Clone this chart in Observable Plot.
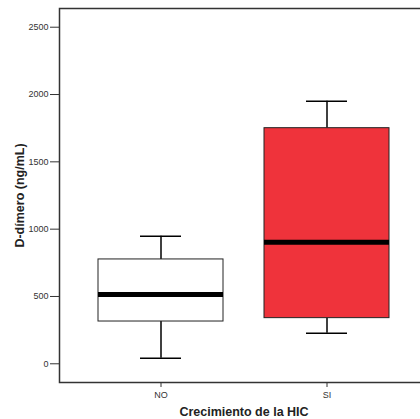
<!DOCTYPE html>
<html>
<head>
<meta charset="utf-8">
<script src="https://cdn.jsdelivr.net/npm/d3@7"></script>
<script src="https://cdn.jsdelivr.net/npm/@observablehq/plot@0.6"></script>
<style>
  html, body { margin: 0; padding: 0; background: white; overflow: hidden; width: 420px; height: 419px; }
  svg { max-width: none !important; font-family: "Liberation Sans", Arial, sans-serif !important; }
  svg g[aria-label="y-axis tick label"], svg g[aria-label="x-axis tick label"] { font-size: 9px !important; fill: #333; }
  svg g[aria-label="y-axis label"], svg g[aria-label="x-axis label"] { font-size: 12.5px !important; font-weight: bold; fill: #222; }
</style>
</head>
<body>
<div id="chart"></div>
<script>
const groups = ["NO", "SI"];
const mins = [42, 227];
const q1s = [314, 339];
const medians = [515, 903];
const q3s = [775, 1750];
const maxs = [948, 1950];
const fills = ["white", "#ef333b"];
const yTicks = [0, 500, 1000, 1500, 2000, 2500];

const data = groups.map((g, i) => ({
  group: g, min: mins[i], q1: q1s[i], median: medians[i], q3: q3s[i], max: maxs[i], fill: fills[i]
}));

const chart = Plot.plot({
  width: 428,
  height: 419,
  marginLeft: 59,
  marginRight: 0,
  marginTop: 8,
  marginBottom: 37,
  style: { fontFamily: "'Liberation Sans', Arial, sans-serif", maxWidth: "none" },
  x: { domain: groups, paddingInner: 0.25, paddingOuter: 0.23, label: "Crecimiento de la HIC" },
  y: { domain: [-139, 2639], label: "D-dímero (ng/mL)" },
  color: { type: "identity" },
  marks: [
    Plot.axisY({ ticks: yTicks, tickFormat: d => String(d), tickSize: 9, tickPadding: 2, stroke: "#333", labelAnchor: "center", labelArrow: "none", labelOffset: 44 }),
    Plot.axisX({ tickSize: 5, tickPadding: 4, stroke: "#333", labelAnchor: "center", labelArrow: "none", labelOffset: 33 }),
    Plot.ruleX(data, { x: "group", y1: "min", y2: "q1", stroke: "black", strokeWidth: 1.5 }),
    Plot.ruleX(data, { x: "group", y1: "q3", y2: "max", stroke: "black", strokeWidth: 1.5 }),
    Plot.tickY(data, { x: "group", y: "min", stroke: "black", strokeWidth: 1.5, insetLeft: 42, insetRight: 42 }),
    Plot.tickY(data, { x: "group", y: "max", stroke: "black", strokeWidth: 1.5, insetLeft: 42, insetRight: 42 }),
    Plot.barY(data, { x: "group", y1: "q1", y2: "q3", fill: "fill", stroke: "#222", strokeWidth: 1 }),
    Plot.tickY(data, { x: "group", y: "median", stroke: "black", strokeWidth: 5 }),
    Plot.frame({ stroke: "#333", strokeWidth: 1.5 })
  ]
});
document.getElementById("chart").appendChild(chart);
</script>
</body>
</html>
